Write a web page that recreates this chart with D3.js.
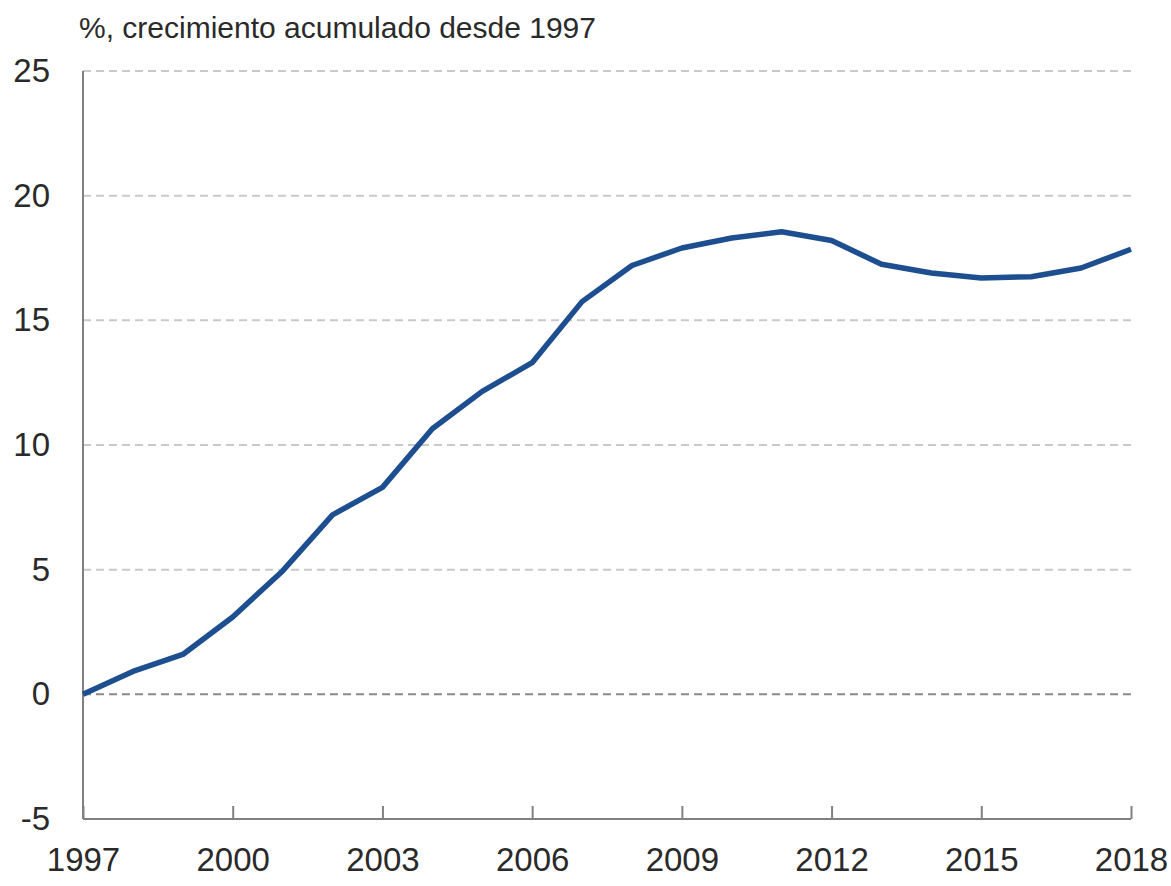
<!DOCTYPE html>
<html>
<head>
<meta charset="utf-8">
<script src="https://cdn.jsdelivr.net/npm/d3@7"></script>
<style>
  html, body { margin: 0; padding: 0; background: #fff; }
  svg { display: block; }
  text { font-family: "Liberation Sans", Arial, Helvetica, sans-serif; fill: #2a2a2a; }
</style>
</head>
<body>
<svg id="chart" width="1171" height="886"></svg>
<script>
const years = [1997,1998,1999,2000,2001,2002,2003,2004,2005,2006,2007,2008,2009,2010,2011,2012,2013,2014,2015,2016,2017,2018];
const growth = [0,0.92,1.6,3.1,4.95,7.2,8.3,10.65,12.15,13.3,15.75,17.2,17.9,18.3,18.55,18.2,17.25,16.9,16.7,16.75,17.1,17.85];
const yTicks = [-5,0,5,10,15,20,25];
const xTicks = [1997,2000,2003,2006,2009,2012,2015,2018];
const title = "%, crecimiento acumulado desde 1997";

const svg = d3.select("#chart");
const margin = {left: 83, right: 40, top: 71, bottom: 67};
const W = 1171, H = 886;

const x = d3.scaleLinear().domain([1997, 2018]).range([margin.left, W - margin.right]);
const y = d3.scaleLinear().domain([-5, 25]).range([H - margin.bottom, margin.top]);

// gridlines
svg.append("g").selectAll("line")
  .data(yTicks.filter(d => d !== -5))
  .join("line")
  .attr("x1", x(1997)).attr("x2", x(2018))
  .attr("y1", d => y(d)).attr("y2", d => y(d))
  .attr("stroke", d => d === 0 ? "#8a8a8a" : "#c9c9c9")
  .attr("stroke-width", 2)
  .attr("stroke-dasharray", "8,5");

// left axis line
svg.append("line")
  .attr("x1", x(1997)).attr("x2", x(1997))
  .attr("y1", y(25)).attr("y2", y(-5))
  .attr("stroke", "#808080").attr("stroke-width", 2);

// bottom axis
const xAxis = d3.axisBottom(x).tickValues(xTicks).tickFormat(d3.format("d")).tickSize(-13).tickPadding(29);
const gx = svg.append("g").attr("transform", `translate(0,${y(-5)})`).call(xAxis);
gx.select(".domain").attr("stroke", "#808080").attr("stroke-width", 2).attr("d", `M${x(1997)},0H${x(2018)}`);
gx.selectAll(".tick line").attr("stroke", "#808080").attr("stroke-width", 2);
gx.selectAll(".tick text").attr("font-size", 33).attr("fill", "#2a2a2a")
  .attr("font-family", "'Liberation Sans', Arial, sans-serif");

// left axis labels
const yAxis = d3.axisLeft(y).tickValues(yTicks).tickFormat(d => String(d)).tickSize(0).tickPadding(33);
const gy = svg.append("g").attr("transform", `translate(${x(1997)},0)`).call(yAxis);
gy.select(".domain").remove();
gy.selectAll(".tick text").attr("font-size", 33).attr("fill", "#2a2a2a")
  .attr("font-family", "'Liberation Sans', Arial, sans-serif");

// line
const line = d3.line().x((d, i) => x(years[i])).y(d => y(d)).curve(d3.curveLinear);
svg.append("path")
  .datum(growth)
  .attr("d", line)
  .attr("fill", "none")
  .attr("stroke", "#1d4e8f")
  .attr("stroke-width", 5.5)
  .attr("stroke-linejoin", "round")
  .attr("stroke-linecap", "butt");

// title
svg.append("text")
  .attr("x", 79).attr("y", 38)
  .attr("font-size", 30)
  .attr("fill", "#2a2a2a")
  .text(title);
</script>
</body>
</html>
